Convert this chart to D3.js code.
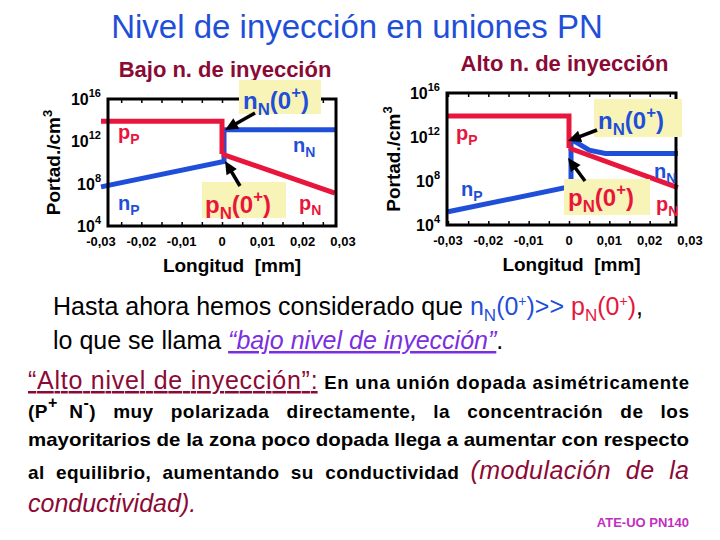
<!DOCTYPE html><html><head><meta charset="utf-8"><script src="https://cdn.jsdelivr.net/npm/d3@7"></script>
<style>body{margin:0;background:#fff}text{font-family:"Liberation Sans",Arial,sans-serif;white-space:pre}</style></head><body><svg id="s" width="720" height="540"></svg>
<script>
const xTicks=[-0.03,-0.02,-0.01,0,0.01,0.02,0.03];
const xTickLabels=["-0,03","-0,02","-0,01","0","0,01","0,02","0,03"];
const yTicks=[4,8,12,16];
// log10 concentrations
const lowPP=[[-0.03,13.9],[0,13.9],[0,10.8]];
const lowNN=[[0.0005,13.1],[0.028,13.1]];
const lowPN=[[0,10.8],[0.028,7.1]];
const lowNP=[[-0.03,7.7],[0.0005,10.1],[0.0005,13.0]];
const highPP=[[-0.03,13.9],[0,13.9],[0,11.0]];
const highPN=[[0,11.0],[0.027,7.4]];
const highNP=[[-0.03,5.2],[0.0005,7.5],[0.0005,11.8],[0.005,10.8],[0.009,10.5],[0.027,10.5]];
const RED="#e8163c",BLUE="#1f4fd8",DRED="#8b0a35";
const svg=d3.select("#s");
svg.append("text").attr("x",357).attr("y",38).attr("text-anchor","middle").attr("font-size",33).attr("fill",BLUE).text("Nivel de inyección en uniones PN");

function sub(g,x,y,parts,size,anchor){
  const t=g.append("text").attr("x",x).attr("y",y).attr("font-size",size).attr("font-weight","bold");
  if(anchor)t.attr("text-anchor",anchor);
  parts.forEach(p=>{const s=t.append("tspan").text(p[0]).attr("fill",p[1]);
    if(p[2]==="sub")s.attr("font-size",size*0.7).attr("dy",size*0.25);
    if(p[2]==="up")s.attr("dy",-size*0.25);
    if(p[2]==="sup")s.attr("font-size",size*0.7).attr("dy",-size*0.45);
    if(p[2]==="back")s.attr("dy",size*0.45);
  });return t;
}
function chart(o){
  const x=d3.scaleLinear().domain([-0.03,0.03]).range(o.xr);
  const y=d3.scaleLinear().domain([4,16]).range([o.yb,o.yt]);
  const g=svg.append("g");
  g.append("text").attr("x",(o.fl+o.fr)/2+3).attr("y",o.yt-22).attr("text-anchor","middle").attr("font-size",22).attr("font-weight","bold").attr("fill",DRED).text(o.title);
  g.append("text").attr("transform",`translate(${o.ylx},${(o.yt+o.yb)/2}) rotate(-90)`).attr("text-anchor","middle").attr("font-size",19).attr("font-weight","bold")
   .call(t=>{t.append("tspan").text("Portad./cm");t.append("tspan").text("3").attr("font-size",13).attr("dy",-8);});
  yTicks.forEach(v=>{const t=g.append("text").attr("x",o.fl-7).attr("y",y(v)+6).attr("text-anchor","end").attr("font-size",16).attr("font-weight","bold");
    t.append("tspan").text("10");t.append("tspan").text(v).attr("font-size",11).attr("dy",-8);});
  xTicks.forEach((v,i)=>g.append("text").attr("x",x(v)).attr("y",o.yb+20).attr("text-anchor","middle").attr("font-size",13).attr("font-weight","bold").text(xTickLabels[i]));
  g.append("text").attr("x",(o.fl+o.fr)/2+10).attr("y",o.yb+46).attr("text-anchor","middle").attr("font-size",19).attr("font-weight","bold").text("Longitud  [mm]");
  const xt=d3.range(-0.03,0.0301,0.005), yt=d3.range(4,16.1,1);
  const axes=[[d3.axisBottom(x).tickValues(xt),`0,${o.yb}`],[d3.axisTop(x).tickValues(xt),`0,${o.yt}`],[d3.axisLeft(y).tickValues(yt),`${o.fl},0`],[d3.axisRight(y).tickValues(yt),`${o.fr},0`]];
  axes.forEach(([a,tr])=>{
    const gg=g.append("g").attr("transform",`translate(${tr})`).call(a.tickSize(-4).tickFormat(""));gg.select(".domain").remove();
    gg.selectAll("line").attr("stroke","#000").attr("stroke-width",1.5);
    gg.selectAll(".tick").filter(function(){const m=this.getAttribute("transform").match(/[-\d.]+/g).map(Number);return m[0]<o.fl-0.5||m[0]>o.fr+0.5;}).remove();
  });
  const line=d3.line().x(d=>x(d[0])).y(d=>y(d[1]));
  o.series.forEach(s=>g.append("path").attr("d",line(s[0])).attr("fill","none").attr("stroke",s[1]).attr("stroke-width",5));
  g.append("rect").attr("x",o.fl).attr("y",o.yt).attr("width",o.fr-o.fl).attr("height",o.yb-o.yt).attr("fill","none").attr("stroke","#000").attr("stroke-width",3);
  o.extra(g);
}
function arrow(g,x1,y1,x2,y2){
  const a=Math.atan2(y2-y1,x2-x1),c=Math.cos(a),s=Math.sin(a);
  g.append("line").attr("x1",x1).attr("y1",y1).attr("x2",x2-9*c).attr("y2",y2-9*s).attr("stroke","#000").attr("stroke-width",3.5);
  const p=[[x2,y2],[x2-13*c+6*s,y2-13*s-6*c],[x2-13*c-6*s,y2-13*s+6*c]];
  g.append("path").attr("d","M"+p.join("L")+"Z").attr("fill","#000");
}
const lbl=(a,b,c)=>[[a,c],[b,c,"sub"]];
const z=(c)=>[["n",c],["N",c,"sub"],["(0",c,"up"],["+",c,"sup"],[")",c,"back"]];
const zp=(c)=>[["p",c],["N",c,"sub"],["(0",c,"up"],["+",c,"sup"],[")",c,"back"]];
chart({id:1,title:"Bajo n. de inyección",xr:[101,343],fl:108,fr:336,yt:99,yb:226,ylx:60,
  series:[[lowNP,BLUE],[lowNN,BLUE],[lowPP,RED],[lowPN,RED]],
  extra:g=>{
    g.append("rect").attr("x",239).attr("y",80).attr("width",82).attr("height",34).attr("fill","#f8f4b8");
    g.append("rect").attr("x",202).attr("y",182).attr("width",84).attr("height",36).attr("fill","#f8f4b8");
    sub(g,243,109,z(BLUE),24);
    sub(g,205,213,zp(RED),24);
    arrow(g,255,113,225,130);arrow(g,240,186,225,161);
    sub(g,118,139,lbl("p","P",RED),20);
    sub(g,293,152,lbl("n","N",BLUE),20);
    sub(g,118,210,lbl("n","P",BLUE),20);
    sub(g,299,210,lbl("p","N",RED),20);
  }});
chart({id:2,title:"Alto n. de inyección",xr:[448,690],fl:447,fr:676,yt:93,yb:225,ylx:400,
  series:[[highNP,BLUE],[highPP,RED],[highPN,RED]],
  extra:g=>{
    g.append("rect").attr("x",594).attr("y",99).attr("width",88).attr("height",38).attr("fill","#f8f4b8");
    g.append("rect").attr("x",564).attr("y",179).attr("width",86).attr("height",36).attr("fill","#f8f4b8");
    sub(g,598,129,z(BLUE),24);
    sub(g,568,206,zp(RED),24);
    arrow(g,597,130,568,141);arrow(g,585,181,568,158);
    sub(g,456,140,lbl("p","P",RED),20);
    sub(g,654,178,lbl("n","N",BLUE),20);
    sub(g,461,196,lbl("n","P",BLUE),20);
    sub(g,656,211,lbl("p","N",RED),20);
  }});
// body text
const tx=svg.append("g");
let t=tx.append("text").attr("x",53).attr("y",315).attr("font-size",25);
t.append("tspan").text("Hasta ahora hemos considerado que ");
t.append("tspan").text("n").attr("fill",BLUE);t.append("tspan").text("N").attr("fill",BLUE).attr("font-size",17).attr("dy",6);
t.append("tspan").text("(0").attr("fill",BLUE).attr("dy",-6);t.append("tspan").text("+").attr("fill",BLUE).attr("font-size",14).attr("dy",-9);
t.append("tspan").text(")>> ").attr("fill",BLUE).attr("dy",9);
t.append("tspan").text("p").attr("fill",RED);t.append("tspan").text("N").attr("fill",RED).attr("font-size",17).attr("dy",6);
t.append("tspan").text("(0").attr("fill",RED).attr("dy",-6);t.append("tspan").text("+").attr("fill",RED).attr("font-size",14).attr("dy",-9);
t.append("tspan").text(")").attr("fill",RED).attr("dy",9);t.append("tspan").text(",");
t=tx.append("text").attr("x",53).attr("y",349).attr("font-size",25);
t.append("tspan").text("lo que se llama ");
t.append("tspan").text("“bajo nivel de inyección”").attr("fill","#7b2ee0").attr("font-style","italic").attr("text-decoration","underline");
t.append("tspan").text(".");
t=tx.append("text").attr("x",28).attr("y",389).attr("textLength",661).attr("lengthAdjust","spacing");
t.append("tspan").text("“Alto nivel de inyección”:").attr("fill",DRED).attr("font-size",25).attr("text-decoration","underline");
t.append("tspan").text(" En una unión dopada asimétricamente").attr("font-size",18.5).attr("font-weight","bold");
t=tx.append("text").attr("x",28).attr("y",418).attr("font-size",19).attr("font-weight","bold").attr("textLength",661).attr("lengthAdjust","spacing");
t.append("tspan").text("(P");t.append("tspan").text("+").attr("font-size",16).attr("dy",-10);t.append("tspan").text("  N").attr("dy",10);
t.append("tspan").text("-").attr("font-size",16).attr("dy",-10);
t.append("tspan").text(")   muy   polarizada   directamente,   la   concentración   de   los").attr("dy",10);
tx.append("text").attr("x",28).attr("y",446).attr("font-size",19).attr("font-weight","bold").attr("textLength",661).attr("lengthAdjust","spacingAndGlyphs").text("mayoritarios de la zona poco dopada llega a aumentar con respecto");
t=tx.append("text").attr("x",28).attr("y",479).attr("font-size",19).attr("font-weight","bold").attr("textLength",661).attr("lengthAdjust","spacing");
t.append("tspan").text("al  equilibrio,  aumentando  su  conductividad  ");
t.append("tspan").text("(modulación  de  la").attr("fill",DRED).attr("font-size",25).attr("font-style","italic").attr("font-weight","normal");
tx.append("text").attr("x",28).attr("y",512).attr("font-size",25).attr("font-style","italic").attr("fill",DRED).text("conductividad).");
tx.append("text").attr("x",689).attr("y",527).attr("text-anchor","end").attr("font-size",13).attr("font-weight","bold").attr("fill","#c030c0").text("ATE-UO PN140");
</script></body></html>
